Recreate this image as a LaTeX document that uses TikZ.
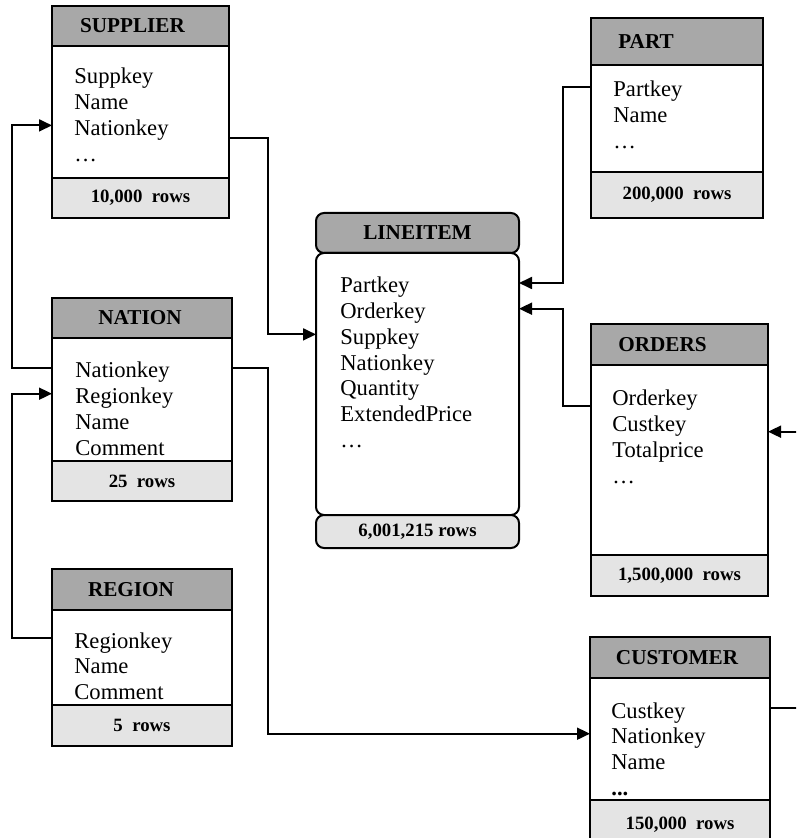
\documentclass[tikz,border=0pt]{standalone}
\usepackage{fontspec}
\setmainfont{Liberation Serif}
\usetikzlibrary{arrows.meta}

\definecolor{headgray}{RGB}{168,168,168}
\definecolor{footgray}{RGB}{228,228,228}

\tikzset{
  tbl/.style={draw, line width=1pt, inner sep=0pt, outer sep=0pt, anchor=north west},
  tblhead/.style={tbl, fill=headgray},
  tblbody/.style={tbl, fill=white},
  tblfoot/.style={tbl, fill=footgray, font=\fontsize{9.4}{11}\selectfont\bfseries},
  tbltitle/.style={inner sep=0pt, font=\fontsize{10.6}{12}\selectfont\bfseries},
  attr/.style={anchor=base west, inner sep=0pt, text height=10pt, text depth=0pt,
    font=\fontsize{11.3}{13}\selectfont},
  fk/.style={line width=0.9pt, -{Triangle[length=6.5pt,width=6pt]}},
  fkline/.style={line width=0.9pt}
}

\begin{document}
\begin{tikzpicture}[x=0.5pt,y=-0.5pt]
  \useasboundingbox (0,0) rectangle (796,838);
  \clip (0,0) rectangle (796,838);

  % SUPPLIER
  \node[tblhead, minimum width=88.5pt, minimum height=20pt] (sup-h) at (52,6) {};
  \node[tblbody, minimum width=88.5pt, minimum height=66pt] (sup-b) at (sup-h.south west) {};
  \node[tblfoot, minimum width=88.5pt, minimum height=20pt] (sup-f) at (sup-b.south west) {10,000~~rows};
  \node[tbltitle, xshift=-4pt] (sup-t) at (sup-h) {SUPPLIER};
  \foreach \w [count=\i from 0] in {Suppkey,Name,Nationkey,\ldots}
    \node[attr] (sup-a\i) at (74,{84+25.7*\i}) {\w};

  % NATION
  \node[tblhead, minimum width=90pt, minimum height=20pt] (nat-h) at (52,298) {};
  \node[tblbody, minimum width=90pt, minimum height=61.5pt] (nat-b) at (nat-h.south west) {};
  \node[tblfoot, minimum width=90pt, minimum height=20pt] (nat-f) at (nat-b.south west) {25~~rows};
  \node[tbltitle, xshift=-1pt] (nat-t) at (nat-h) {NATION};
  \foreach \w [count=\i from 0] in {Nationkey,Regionkey,Name,Comment}
    \node[attr] (nat-a\i) at (75,{378+25.7*\i}) {\w};

  % REGION
  \node[tblhead, minimum width=90pt, minimum height=20.5pt] (reg-h) at (52,569) {};
  \node[tblbody, minimum width=90pt, minimum height=47.5pt] (reg-b) at (reg-h.south west) {};
  \node[tblfoot, minimum width=90pt, minimum height=20.5pt] (reg-f) at (reg-b.south west) {5~~rows};
  \node[tbltitle, xshift=-5.5pt] (reg-t) at (reg-h) {REGION};
  \foreach \w [count=\i from 0] in {Regionkey,Name,Comment}
    \node[attr] (reg-a\i) at (74,{648+25.7*\i}) {\w};

  % LINEITEM
  \node[tblhead, rounded corners=4pt, minimum width=101.5pt, minimum height=20pt] (li-h) at (316,213) {};
  \node[tblbody, rounded corners=4pt, minimum width=101.5pt, minimum height=131pt] (li-b) at (li-h.south west) {};
  \node[tblfoot, rounded corners=4pt, minimum width=101.5pt, minimum height=16.5pt] (li-f) at (li-b.south west) {6,001,215 rows};
  \node[tbltitle] (li-t) at (li-h) {LINEITEM};
  \foreach \w [count=\i from 0] in {Partkey,Orderkey,Suppkey,Nationkey,Quantity,ExtendedPrice,\ldots}
    \node[attr] (li-a\i) at (340,{293+25.7*\i}) {\w};

  % PART
  \node[tblhead, minimum width=86pt, minimum height=23.5pt] (prt-h) at (591,18) {};
  \node[tblbody, minimum width=86pt, minimum height=53.5pt] (prt-b) at (prt-h.south west) {};
  \node[tblfoot, minimum width=86pt, minimum height=23pt] (prt-f) at (prt-b.south west) {200,000~~rows};
  \node[tbltitle, xshift=-15.5pt] (prt-t) at (prt-h) {PART};
  \foreach \w [count=\i from 0] in {Partkey,Name,\ldots}
    \node[attr] (prt-a\i) at (613,{97+25.7*\i}) {\w};

  % ORDERS
  \node[tblhead, minimum width=88.5pt, minimum height=20.5pt] (ord-h) at (591,324) {};
  \node[tblbody, minimum width=88.5pt, minimum height=95pt] (ord-b) at (ord-h.south west) {};
  \node[tblfoot, minimum width=88.5pt, minimum height=20.5pt] (ord-f) at (ord-b.south west) {1,500,000~~rows};
  \node[tbltitle, xshift=-8.5pt] (ord-t) at (ord-h) {ORDERS};
  \foreach \w [count=\i from 0] in {Orderkey,Custkey,Totalprice,\ldots}
    \node[attr] (ord-a\i) at (612,{406+25.7*\i}) {\w};

  % CUSTOMER
  \node[tblhead, minimum width=90pt, minimum height=20.5pt] (cus-h) at (590,637) {};
  \node[tblbody, minimum width=90pt, minimum height=61pt] (cus-b) at (cus-h.south west) {};
  \node[tblfoot, minimum width=90pt, minimum height=25pt] (cus-f) at (cus-b.south west) {150,000~~rows};
  \node[tbltitle, xshift=-1.5pt] (cus-t) at (cus-h) {CUSTOMER};
  \foreach \w [count=\i from 0] in {Custkey,Nationkey,Name,\textbf{...}}
    \node[attr] (cus-a\i) at (611,{718+25.7*\i}) {\w};

  % key links
  \coordinate[yshift=-6.5pt] (sup-out) at (sup-b.east |- sup-a2);
  \coordinate[yshift=-5pt] (ord-out) at (ord-b.west |- ord-a0);
  \coordinate[yshift=-5pt] (ord-in) at (ord-b.east |- ord-a1);
  \coordinate (ord-src) at (800,0 |- ord-in);
  \coordinate (cus-dst) at (800,0 |- cus-a0);

  \draw[fk] (nat-b.west |- nat-a0) -- ++(-40,0) |- (sup-b.west |- sup-a2);
  \draw[fk] (reg-b.west |- reg-a0) -- ++(-40,0) |- (nat-b.west |- nat-a1);
  \draw[fk] (sup-out) -- ++(39,0) |- (li-b.west |- li-a2);
  \draw[fk] (nat-b.east |- nat-a0) -- ++(36,0) |- (cus-b.west |- cus-a1);
  \draw[fk] (prt-b.west |- prt-a0) -- ++(-28,0) |- (li-b.east |- li-a0);
  \draw[fk] (ord-out) -- ++(-28,0) |- (li-b.east |- li-a1);
  \draw[fk] (ord-src) -- (ord-in);
  \draw[fkline] (cus-b.east |- cus-a0) -- (cus-dst);
\end{tikzpicture}
\end{document}
